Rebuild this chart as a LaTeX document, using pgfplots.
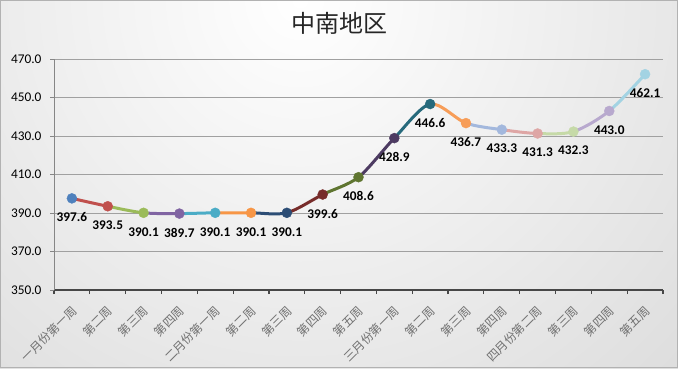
\documentclass[border=0pt]{standalone}
\usepackage{pgfplots}
\pgfplotsset{compat=1.18}
\usepackage{pgfplotstable}
\usepackage{fontspec}
\setmainfont{Carlito}
\newfontfamily\cjk{Noto Sans CJK SC}
\definecolor{c1}{HTML}{4F81BD}
\definecolor{c2}{HTML}{C0504D}
\definecolor{c3}{HTML}{9BBB59}
\definecolor{c4}{HTML}{8064A2}
\definecolor{c5}{HTML}{4BACC6}
\definecolor{c6}{HTML}{F79646}
\definecolor{c7}{HTML}{2C4D75}
\definecolor{c8}{HTML}{772C2A}
\definecolor{c9}{HTML}{5F7530}
\definecolor{c10}{HTML}{4D3B62}
\definecolor{c11}{HTML}{276A7C}
\definecolor{c12}{HTML}{F79D58}
\definecolor{c13}{HTML}{A3B8DD}
\definecolor{c14}{HTML}{DEA6A5}
\definecolor{c15}{HTML}{C6DAA8}
\definecolor{c16}{HTML}{B8A9CE}
\definecolor{c17}{HTML}{A3D3E3}
\definecolor{gridgray}{HTML}{A0A0A0}
\definecolor{axgray}{HTML}{868686}
\definecolor{labgray}{HTML}{707070}
\pgfplotstableread{
x y c
1 397.6 a
2 393.5 b
3 390.1 c
4 389.7 d
5 390.1 e
6 390.1 f
7 390.1 g
8 399.6 h
9 408.6 i
10 428.9 j
11 446.6 k
12 436.7 l
13 433.3 m
14 431.3 n
15 432.3 o
16 443.0 p
17 462.1 q
}\data
\newcommand\seg[3]{\begin{scope}\clip (axis cs:#1,340) rectangle (axis cs:#2,480);
\addplot[draw=#3, line width=3pt, smooth, no marks, forget plot] table[x=x,y=y] {\data};
\end{scope}}
\begin{document}
\begin{tikzpicture}
\useasboundingbox (0pt,0pt) rectangle (678pt,368pt);
\begin{scope}
\clip (0pt,0pt) rectangle (678pt,368pt);
\shade[inner color=white, outer color={rgb,255:red,188;green,188;blue,188}] (300pt,368pt) circle (1060pt);
\end{scope}
\draw[color=black!30, line width=1pt] (0.5pt,0.5pt) rectangle (677.5pt,367.5pt);
\node[font=\cjk\fontsize{24}{28}\selectfont, text=black!85] at (339pt,345pt) {中南地区};
\begin{axis}[at={(54pt,78pt)}, anchor=south west, scale only axis,
  width=609pt, height=231pt,
  xmin=0.5, xmax=17.5, ymin=350, ymax=470,
  ytick={350,370,...,470},
  /pgf/number format/assume math mode=true,
  yticklabel style={font=\fontsize{13.3}{15}\selectfont, text=black, xshift=-5pt,
    /pgf/number format/.cd, fixed, fixed zerofill, precision=1},
  ymajorgrids, grid style={draw=gridgray, line width=0.8pt},
  axis x line*=bottom, axis y line*=left,
  x axis line style={draw=black!72, line width=2pt},
  y axis line style={draw=axgray, line width=0.8pt},
  xtick={1,...,17},
  xticklabels={一月份第一周,第二周,第三周,第四周,二月份第一周,第二周,第三周,第四周,第五周,三月份第一周,第二周,第三周,第四周,四月份第二周,第三周,第四周,第五周},
  xticklabel style={font=\cjk\fontsize{12}{14}\selectfont, text=labgray, xshift=5pt, yshift=-12pt, rotate=45, anchor=east},
  minor xtick={0.5,1.5,...,17.5},
  major x tick style={draw=none},
  minor x tick style={draw=black!72, line width=1.2pt},
  ytick style={draw=axgray, line width=0.8pt},
  minor tick length=4pt, major tick length=4pt,
  tick align=outside,
]
\seg{1}{2}{c2}
\seg{2}{3}{c3}
\seg{3}{4}{c4}
\seg{4}{5}{c5}
\seg{5}{6}{c6}
\seg{6}{7}{c7}
\seg{7}{8}{c8}
\seg{8}{9}{c9}
\seg{9}{10}{c10}
\seg{10}{11}{c11}
\seg{11}{12}{c12}
\seg{12}{13}{c13}
\seg{13}{14}{c14}
\seg{14}{15}{c15}
\seg{15}{16}{c16}
\seg{16}{17}{c17}
\addplot[scatter, only marks, mark=*, mark size=5pt, scatter src=explicit symbolic,
  scatter/classes={
   a={mark=*,draw=c1,fill=c1}, b={mark=*,draw=c2,fill=c2}, c={mark=*,draw=c3,fill=c3},
   d={mark=*,draw=c4,fill=c4}, e={mark=*,draw=c5,fill=c5}, f={mark=*,draw=c6,fill=c6},
   g={mark=*,draw=c7,fill=c7}, h={mark=*,draw=c8,fill=c8}, i={mark=*,draw=c9,fill=c9},
   j={mark=*,draw=c10,fill=c10}, k={mark=*,draw=c11,fill=c11}, l={mark=*,draw=c12,fill=c12},
   m={mark=*,draw=c13,fill=c13}, n={mark=*,draw=c14,fill=c14}, o={mark=*,draw=c15,fill=c15},
   p={mark=*,draw=c16,fill=c16}, q={mark=*,draw=c17,fill=c17}}]
  table[x=x,y=y,meta=c] {\data};
\addplot[draw=none, mark=none, point meta=y,
  nodes near coords={\pgfmathprintnumber[fixed,fixed zerofill,precision=1,assume math mode=true]{\pgfplotspointmeta}},
  nodes near coords style={font=\bfseries\fontsize{13.3}{15}\selectfont, text=black, anchor=north, yshift=-11pt}]
  table[x=x,y=y] {\data};
\end{axis}
\end{tikzpicture}
\end{document}
